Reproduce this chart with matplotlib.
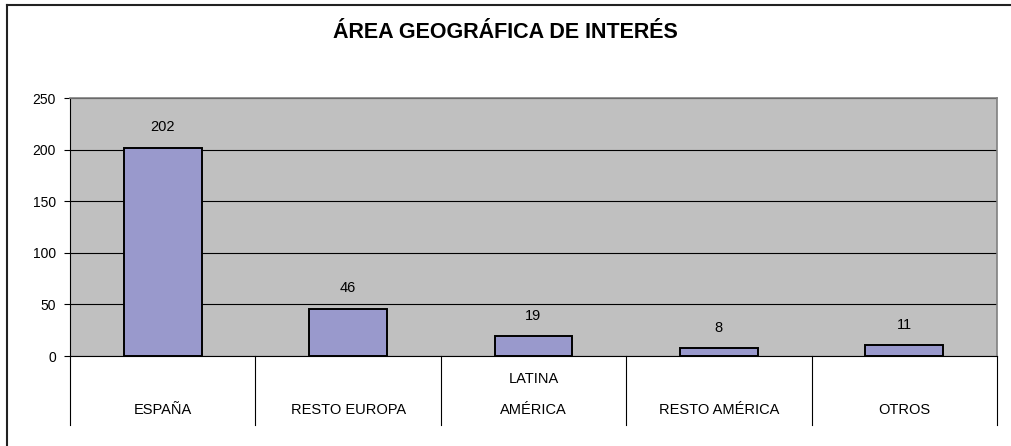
import matplotlib
matplotlib.use("Agg")
import matplotlib.pyplot as plt
from matplotlib.lines import Line2D
import matplotlib.transforms as mtransforms

# data
categories = ["ESPAÑA", "RESTO EUROPA", "LATINA\nAMÉRICA", "RESTO AMÉRICA", "OTROS"]
values = [202, 46, 19, 8, 11]
yticks = [0, 50, 100, 150, 200, 250]
title = "ÁREA GEOGRÁFICA DE INTERÉS"

W, H = 1011, 446
plt.rcParams["font.family"] = ["Liberation Sans", "DejaVu Sans"]

fig = plt.figure(figsize=(W / 100, H / 100), dpi=100)
fig.patch.set_facecolor("white")

# plot area in pixels
left, right, top, bottom = 70, 997, 98, 356
ax = fig.add_axes([left / W, 1 - bottom / H, (right - left) / W, (bottom - top) / H])
ax.set_facecolor("#C0C0C0")

x = list(range(len(values)))
ax.bar(x, values, width=0.42, color="#9999CC", edgecolor="black", linewidth=1.4, zorder=3)

ax.set_xlim(-0.5, len(values) - 0.5)
ax.set_ylim(0, 250)
ax.set_yticks(yticks)
ax.set_yticklabels([str(t) for t in yticks], fontsize=10)
ax.tick_params(axis="y", length=4, width=0.8, pad=6, color="black")
ax.set_xticks([])
ax.grid(axis="y", color="black", linewidth=0.8, zorder=1)
ax.set_axisbelow(True)

for s in ["top", "right"]:
    ax.spines[s].set_color("#808080")
    ax.spines[s].set_linewidth(1.2)
ax.spines["left"].set_color("black")
ax.spines["bottom"].set_color("black")
ax.spines["left"].set_linewidth(0.8)
ax.spines["bottom"].set_linewidth(0.8)

# value labels
for xi, v in zip(x, values):
    ax.annotate(str(v), (xi, v), xytext=(0, 14.5), textcoords="offset points",
                ha="center", va="center", fontsize=10.5)

# category dividers and labels
trans = mtransforms.blended_transform_factory(ax.transData, ax.transAxes)
ph = bottom - top
div_bottom = -(425 - bottom) / ph
for i in range(len(values) + 1):
    ax.add_line(Line2D([i - 0.5, i - 0.5], [0, div_bottom], transform=trans,
                       color="black", linewidth=0.8, clip_on=False))

line_step = 31 / ph
base_y = -(410 - bottom) / ph
for xi, lab in zip(x, categories):
    lines = lab.split("\n")
    for j, ln in enumerate(reversed(lines)):
        ax.text(xi, base_y + j * line_step, ln, transform=trans, ha="center",
                va="center", fontsize=10.5)

# title
fig.text(505 / W, 1 - 33 / H, title, ha="center", va="center",
         fontsize=15.5, fontweight="bold")

# outer frame (left and top edges visible)
fig.add_artist(Line2D([6.5 / W, 6.5 / W], [0, 1 - 4.5 / H], transform=fig.transFigure,
                      color="#222222", linewidth=1.5))
fig.add_artist(Line2D([6.5 / W, 1], [1 - 4.5 / H, 1 - 4.5 / H], transform=fig.transFigure,
                      color="#222222", linewidth=1.5))

fig.savefig("out.png", dpi=100)
